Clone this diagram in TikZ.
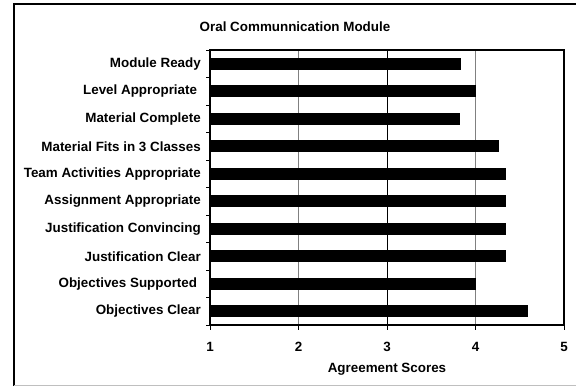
\documentclass[tikz,border=0pt]{standalone}
\usepackage{fontspec}
\setmainfont{Liberation Sans}
\begin{document}
\begin{tikzpicture}[x=1pt, y=-1pt, every node/.style={font=\bfseries\fontsize{13.4}{15}\selectfont, inner sep=0pt}]

% Dimensions
\def\xleft{210}
\def\xunit{88.5}
\def\ytop{50}
\def\ybot{325}
\def\rowh{27.5}
\def\barh{6}

\useasboundingbox (0,0) rectangle (576,386);

% Outer frame
\draw[line width=2pt] (14,386) -- (14,4) -- (577,4);
\draw[gray!50] (14,385.5) -- (576,385.5);

% Grid lines
\draw[gray, line width=1pt] ({\xleft+\xunit}, \ytop) -- ({\xleft+\xunit}, \ybot);
\draw[line width=1pt] ({\xleft+2*\xunit}, \ytop) -- ({\xleft+2*\xunit}, \ybot);
\draw[gray, line width=1pt] ({\xleft+3*\xunit}, \ytop) -- ({\xleft+3*\xunit}, \ybot);

% Bars
\foreach \v [count=\i from 0] in {3.84,4.0,3.82,4.26,4.34,4.34,4.34,4.34,4.0,4.59} {
    \fill ({\xleft}, {\ytop+\rowh*(\i+0.5)-\barh}) rectangle ({\xleft+\xunit*(\v-1)}, {\ytop+\rowh*(\i+0.5)+\barh});
}

% Plot box
\draw[line width=1.3pt] (\xleft, \ytop) rectangle ({\xleft+4*\xunit}, \ybot);

% Ticks
\foreach \i in {0,...,10} {
    \draw[line width=0.8pt] ({\xleft-4}, {\ytop+\rowh*\i}) -- (\xleft, {\ytop+\rowh*\i});
}
\foreach \i in {0,...,4} {
    \draw[line width=0.8pt] ({\xleft+\xunit*\i}, \ybot) -- ({\xleft+\xunit*\i}, {\ybot+5});
}

% Category labels
\foreach \name/\txt [count=\i from 0] in {ready/Module Ready, level/Level Appropriate\ \ , complete/Material Complete, fits/Material Fits in 3 Classes, team/Team Activities Appropriate, assign/Assignment Appropriate, convince/Justification Convincing, clear/Justification Clear, support/Objectives Supported\ \ , objclear/Objectives Clear} {
    \node[anchor=east] (lab-\name) at (201, {\ytop+\rowh*(\i+0.5)}) {\txt};
}

% Axis values
\foreach \n in {1,...,5} {
    \node (val\n) at ({\xleft+\xunit*(\n-1)}, 347) {\n};
}

% Titles
\node (title) at (295, 27) {Oral Communnication Module};
\node (xtitle) at ({\xleft+2*\xunit}, 369) {Agreement Scores};

\end{tikzpicture}
\end{document}
